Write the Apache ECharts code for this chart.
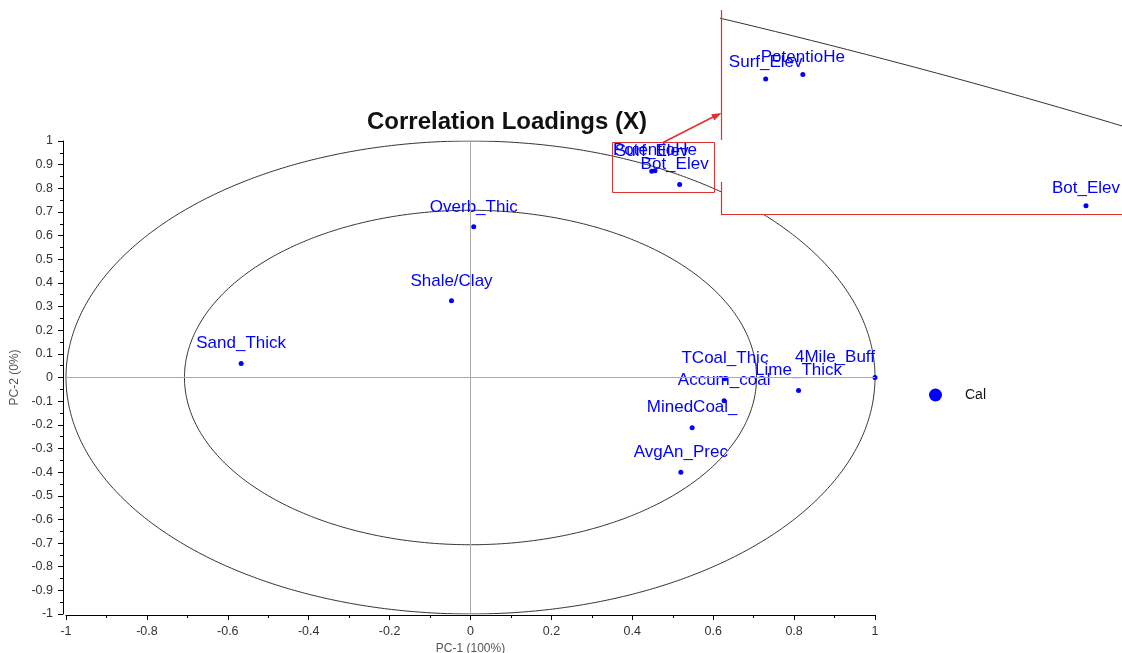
<!DOCTYPE html>
<html><head><meta charset="utf-8">
<script src="https://cdn.jsdelivr.net/npm/echarts@6/dist/echarts.min.js"></script>
<style>html,body{margin:0;padding:0;background:#fff}#c{width:1122px;height:653px}</style>
</head><body><div id="c"></div><script>
// ---- data ----
const variableNames = ['Sand_Thick','Overb_Thic','Shale/Clay','Surf_Elev','PotentioHe','Bot_Elev','TCoal_Thic','Accum_coal','Lime_Thick','4Mile_Buff','MinedCoal_','AvgAn_Prec'];
const pc1Loadings = [-0.567, 0.008, -0.047, 0.448, 0.456, 0.517, 0.629, 0.627, 0.811, 1.000, 0.548, 0.520];
const pc2Loadings = [ 0.059, 0.637,  0.324, 0.872, 0.874, 0.816, -0.005, -0.098, -0.055, 0.000, -0.212, -0.401];
const seriesName = 'Cal';
const chartTitle = 'Correlation Loadings (X)';
const xAxisName = 'PC-1 (100%)';
const yAxisName = 'PC-2 (0%)';
const axisRange = [-1, 1];
const xTickInterval = 0.2;
const yTickInterval = 0.1;
const ellipseRadii = [1, Math.SQRT1_2];       // 100% and 50% explained variance
const insetXRange = [0.43837, 0.56332];
const insetYRange = [0.81232, 0.9025];

// ---- styling ----
const FONT = "'Liberation Sans', Arial, sans-serif";
const BLUE = '#0000ff';
const RED = '#e03030';
const labelOffsets = { '4Mile_Buff': [-40, 0], 'Bot_Elev': [-5, 0] };

function circlePoints(r) {
  const pts = [];
  const n = 1440;
  for (let i = 0; i <= n; i++) {
    const a = 2 * Math.PI * i / n;
    pts.push([r * Math.cos(a), r * Math.sin(a)]);
  }
  return pts;
}

const pointData = variableNames.map((name, i) => {
  const d = { name: name, value: [pc1Loadings[i], pc2Loadings[i]] };
  if (labelOffsets[name]) d.label = { offset: labelOffsets[name] };
  return d;
});
const insetData = variableNames.map((name, i) => ({ name: name, value: [pc1Loadings[i], pc2Loadings[i]] }));

function mainAxis(isX) {
  return {
    type: 'value', gridIndex: 0,
    min: axisRange[0], max: axisRange[1],
    interval: isX ? xTickInterval : yTickInterval,
    offset: isX ? 1 : 3,
    name: isX ? xAxisName : yAxisName,
    nameLocation: 'middle',
    nameGap: isX ? 26 : 39,
    nameTextStyle: { color: '#555', fontSize: 12, fontFamily: FONT },
    axisLine: { show: true, onZero: false, lineStyle: { color: '#000', width: 1 } },
    axisTick: { show: true, length: 5, lineStyle: { color: '#000' } },
    minorTick: { show: true, splitNumber: 2, length: 3, lineStyle: { color: '#000' } },
    axisLabel: { color: '#333', fontSize: 12.5, fontFamily: FONT, margin: 10 },
    splitLine: { show: false },
    minorSplitLine: { show: false }
  };
}

const series = [];
ellipseRadii.forEach(r => {
  series.push({
    type: 'line', xAxisIndex: 0, yAxisIndex: 0, data: circlePoints(r),
    showSymbol: false, symbol: 'none', silent: true, z: 1,
    lineStyle: { color: '#333', width: 1 }
  });
});
series.push({
  name: seriesName, type: 'scatter', xAxisIndex: 0, yAxisIndex: 0,
  data: pointData, symbol: 'circle', symbolSize: 5, z: 3,
  itemStyle: { color: BLUE, opacity: 1 },
  label: { show: true, position: 'top', distance: 9, formatter: '{b}', color: BLUE, fontSize: 17, fontFamily: FONT },
  markLine: {
    silent: true, symbol: 'none', animation: false,
    lineStyle: { color: '#aaa', width: 1, type: 'solid' },
    label: { show: false },
    data: [{ xAxis: 0 }, { yAxis: 0 }]
  }
});
// inset (zoomed view)
series.push({
  type: 'line', xAxisIndex: 1, yAxisIndex: 1, data: circlePoints(ellipseRadii[0]),
  showSymbol: false, symbol: 'none', silent: true, z: 100, clip: true,
  lineStyle: { color: '#333', width: 1 }
});
series.push({
  name: seriesName + ' (zoom)', type: 'scatter', xAxisIndex: 1, yAxisIndex: 1,
  data: insetData, symbol: 'circle', symbolSize: 5, z: 101, clip: true,
  itemStyle: { color: BLUE, opacity: 1 },
  label: { show: true, position: 'top', distance: 6, formatter: '{b}', color: BLUE, fontSize: 17, fontFamily: FONT }
});

const option = {
  animation: false,
  backgroundColor: '#fff',
  textStyle: { fontFamily: FONT },
  title: {
    text: chartTitle, left: 362, top: 105,
    textStyle: { fontSize: 24, fontWeight: 'bold', color: '#111', fontFamily: FONT }
  },
  legend: {
    data: [{ name: seriesName, icon: 'circle' }],
    left: 924, top: 383, itemWidth: 13, itemHeight: 13,
    textStyle: { fontSize: 14, color: '#111', fontFamily: FONT, padding: [0, 0, 0, 18] }
  },
  grid: [
    { left: 66, right: 247, top: 141, bottom: 39, containLabel: false, outerBoundsMode: 'none' },
    { left: 721, top: 10, width: 580, height: 204, containLabel: false, outerBoundsMode: 'none' }
  ],
  xAxis: [
    mainAxis(true),
    { type: 'value', gridIndex: 1, min: insetXRange[0], max: insetXRange[1], show: false, splitLine: { show: false } }
  ],
  yAxis: [
    mainAxis(false),
    { type: 'value', gridIndex: 1, min: insetYRange[0], max: insetYRange[1], show: false, splitLine: { show: false } }
  ],
  graphic: [
    { type: 'rect', z: 50, silent: true, shape: { x: 721, y: 0, width: 401, height: 214 }, style: { fill: '#fff' } },
    { type: 'line', z: 120, silent: true, shape: { x1: 721.5, y1: 10, x2: 721.5, y2: 140 }, style: { stroke: RED, lineWidth: 1.2 } },
    { type: 'line', z: 120, silent: true, shape: { x1: 721.5, y1: 182, x2: 721.5, y2: 214.5 }, style: { stroke: RED, lineWidth: 1.2 } },
    { type: 'line', z: 120, silent: true, shape: { x1: 721, y1: 214.5, x2: 1122, y2: 214.5 }, style: { stroke: RED, lineWidth: 1.2 } },
    { type: 'rect', z: 120, silent: true, shape: { x: 612.5, y: 142.5, width: 102, height: 50 }, style: { fill: 'none', stroke: RED, lineWidth: 1 } },
    { type: 'line', z: 120, silent: true, shape: { x1: 663, y1: 142.5, x2: 714, y2: 116.5 }, style: { stroke: RED, lineWidth: 1.5 } },
    { type: 'polygon', z: 120, silent: true, shape: { points: [[721.5, 113], [711.2, 114.2], [714.4, 120.4]] }, style: { fill: RED } }
  ],
  series: series
};

const chart = echarts.init(document.getElementById('c'), null, { renderer: 'canvas' });
chart.setOption(option);
</script></body></html>
